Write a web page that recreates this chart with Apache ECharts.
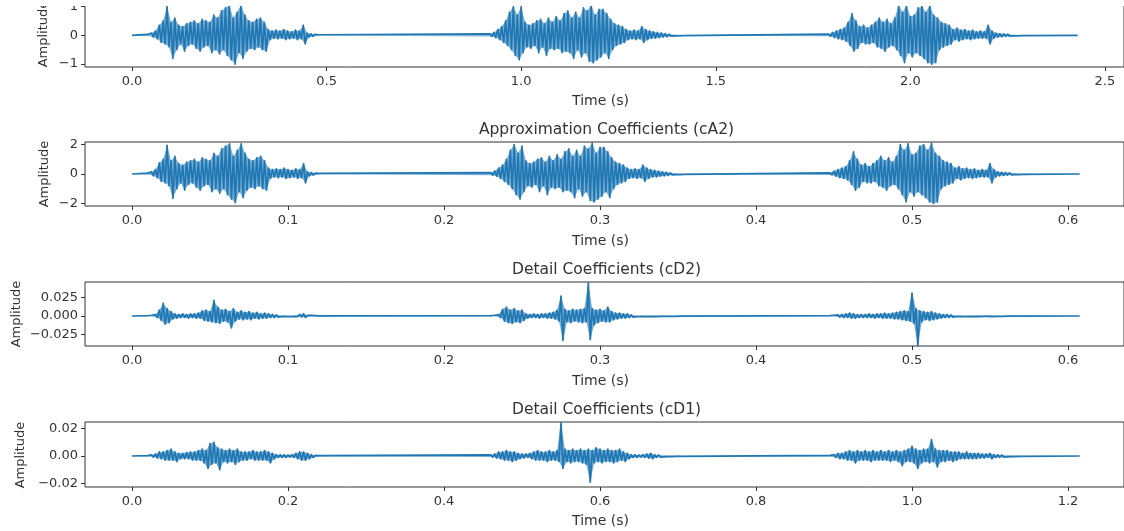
<!DOCTYPE html>
<html>
<head>
<meta charset="utf-8">
<script src="https://cdn.jsdelivr.net/npm/echarts@6/dist/echarts.min.js"></script>
<style>
  html, body { margin: 0; padding: 0; background: #ffffff; }
  #chart { width: 1124px; height: 531px; }
</style>
</head>
<body>
<div id="chart"></div>
<script>
// ---- Original signal: three spoken bursts, peak envelope per 10 ms window ----
const sigStart = [0.04, 0.92, 1.79];
const sigStep = 0.01;
const sigEnd = 2.43;
const sigUp1 = [0.03,0.08,0.15,0.35,0.5,1.0,0.45,0.6,0.35,0.3,0.4,0.45,0.5,0.4,0.55,0.5,0.45,0.7,0.6,0.85,0.95,1.05,0.6,0.8,1.05,0.7,0.5,0.45,0.55,0.6,0.45,0.2,0.15,0.18,0.15,0.2,0.15,0.12,0.18,0.15,0.35,0.08,0.05,0.03,0.02];
const sigDn1 = [-0.03,-0.06,-0.12,-0.25,-0.3,-0.4,-0.8,-0.5,-0.3,-0.55,-0.35,-0.3,-0.45,-0.55,-0.4,-0.35,-0.6,-0.5,-0.65,-0.5,-0.7,-0.85,-1.0,-0.6,-0.8,-0.55,-0.45,-0.5,-0.4,-0.5,-0.55,-0.15,-0.1,-0.12,-0.1,-0.15,-0.12,-0.1,-0.15,-0.12,-0.3,-0.06,-0.04,-0.02,-0.01];
const sigUp2 = [0.05,0.1,0.2,0.3,0.5,0.8,1.0,0.7,1.0,0.45,0.35,0.4,0.5,0.55,0.4,0.6,0.45,0.65,0.5,0.75,0.85,0.6,0.8,0.6,0.95,0.85,1.05,0.7,0.9,0.9,0.75,0.55,0.4,0.35,0.3,0.2,0.15,0.18,0.15,0.3,0.2,0.15,0.12,0.1,0.08,0.06,0.04,0.03,0.02,0.01];
const sigDn2 = [-0.04,-0.08,-0.15,-0.25,-0.35,-0.5,-0.7,-0.85,-0.6,-0.4,-0.45,-0.35,-0.6,-0.4,-0.7,-0.45,-0.5,-0.45,-0.6,-0.55,-0.6,-0.8,-0.5,-0.75,-0.6,-0.9,-0.95,-0.85,-0.75,-0.6,-0.8,-0.5,-0.35,-0.3,-0.25,-0.15,-0.12,-0.15,-0.12,-0.25,-0.15,-0.1,-0.1,-0.08,-0.06,-0.05,-0.03,-0.02,-0.02,-0.01];
const sigUp3 = [0.04,0.1,0.15,0.2,0.25,0.45,0.75,0.5,0.3,0.35,0.25,0.35,0.45,0.6,0.45,0.55,0.4,0.6,1.05,0.8,1.05,0.65,0.7,0.95,1.0,0.8,1.05,0.7,0.6,0.45,0.4,0.35,0.2,0.25,0.18,0.2,0.15,0.18,0.12,0.15,0.12,0.35,0.15,0.08,0.06,0.05,0.04,0.03,0.02,0.01];
const sigDn3 = [-0.03,-0.08,-0.12,-0.15,-0.2,-0.35,-0.55,-0.45,-0.25,-0.3,-0.3,-0.25,-0.4,-0.45,-0.55,-0.4,-0.35,-0.5,-0.7,-0.95,-0.6,-0.75,-0.6,-0.7,-0.8,-0.95,-1.0,-0.95,-0.5,-0.4,-0.35,-0.3,-0.15,-0.2,-0.15,-0.12,-0.15,-0.12,-0.1,-0.1,-0.1,-0.3,-0.1,-0.06,-0.05,-0.04,-0.03,-0.02,-0.02,-0.01];

// ---- Level-2 approximation coefficients (cA2) ----
const caStart = [0.01, 0.23, 0.4475];
const caStep = 0.0025;
const caEnd = 0.6075;
const caUp1 = [0.06,0.15,0.3,0.75,1.0,1.95,0.9,1.2,0.7,0.6,0.8,0.9,1.0,0.8,1.1,1.0,0.9,1.4,1.2,1.7,1.9,2.05,1.2,1.6,2.05,1.4,1.0,0.9,1.1,1.2,0.9,0.4,0.3,0.35,0.3,0.4,0.3,0.25,0.35,0.3,0.7,0.15,0.1,0.06,0.04];
const caDn1 = [-0.05,-0.12,-0.25,-0.5,-0.6,-0.8,-1.65,-1.0,-0.6,-1.1,-0.7,-0.6,-0.9,-1.1,-0.8,-0.7,-1.2,-1.0,-1.3,-1.0,-1.4,-1.7,-1.95,-1.2,-1.6,-1.1,-0.9,-1.0,-0.8,-1.0,-1.1,-0.3,-0.2,-0.25,-0.2,-0.3,-0.25,-0.2,-0.3,-0.25,-0.6,-0.12,-0.08,-0.05,-0.02];
const caUp2 = [0.1,0.2,0.4,0.6,1.0,1.6,2.0,1.4,1.9,0.9,0.7,0.8,1.0,1.1,0.8,1.2,0.9,1.3,1.0,1.5,1.7,1.2,1.6,1.2,1.9,1.7,2.1,1.4,1.8,1.8,1.5,1.1,0.8,0.7,0.6,0.4,0.3,0.35,0.3,0.6,0.4,0.3,0.25,0.2,0.15,0.12,0.08,0.06,0.04,0.02];
const caDn2 = [-0.08,-0.15,-0.3,-0.5,-0.7,-1.0,-1.4,-1.7,-1.2,-0.8,-0.9,-0.7,-1.2,-0.8,-1.4,-0.9,-1.0,-0.9,-1.2,-1.1,-1.2,-1.6,-1.0,-1.5,-1.2,-1.8,-1.9,-1.7,-1.5,-1.2,-1.6,-1.0,-0.7,-0.6,-0.5,-0.3,-0.25,-0.3,-0.25,-0.5,-0.3,-0.2,-0.2,-0.15,-0.12,-0.1,-0.06,-0.04,-0.04,-0.02];
const caUp3 = [0.08,0.2,0.3,0.4,0.5,0.9,1.5,1.0,0.6,0.7,0.5,0.7,0.9,1.2,0.9,1.1,0.8,1.2,2.0,1.6,2.05,1.3,1.4,1.9,2.0,1.6,2.1,1.4,1.2,0.9,0.8,0.7,0.4,0.5,0.35,0.4,0.3,0.35,0.25,0.3,0.25,0.7,0.3,0.15,0.12,0.1,0.08,0.06,0.04,0.02];
const caDn3 = [-0.06,-0.15,-0.25,-0.3,-0.4,-0.7,-1.1,-0.9,-0.5,-0.6,-0.6,-0.5,-0.8,-0.9,-1.1,-0.8,-0.7,-1.0,-1.4,-1.9,-1.2,-1.5,-1.2,-1.4,-1.6,-1.9,-2.0,-1.9,-1.0,-0.8,-0.7,-0.6,-0.3,-0.4,-0.3,-0.25,-0.3,-0.25,-0.2,-0.2,-0.2,-0.6,-0.2,-0.12,-0.1,-0.08,-0.06,-0.04,-0.04,-0.02];

// ---- Level-2 detail coefficients (cD2) ----
const cd2Start = [0.01, 0.23, 0.4475];
const cd2Step = 0.0025;
const cd2End = 0.6075;
const cd2Up1 = [0.0005,0.001,0.002,0.008,0.017,0.01,0.006,0.003,0.002,0.003,0.002,0.003,0.003,0.004,0.007,0.008,0.006,0.021,0.012,0.008,0.009,0.006,0.01,0.005,0.007,0.005,0.006,0.004,0.005,0.003,0.004,0.003,0.002,0.0015,0.001,0.0015,0.001,0.001,0.0015,0.002,0.003,0.001,0.0008,0.0005,0.0003];
const cd2Dn1 = [-0.0005,-0.001,-0.002,-0.006,-0.011,-0.009,-0.004,-0.003,-0.002,-0.002,-0.003,-0.002,-0.003,-0.003,-0.006,-0.007,-0.008,-0.009,-0.01,-0.007,-0.008,-0.016,-0.007,-0.004,-0.005,-0.004,-0.005,-0.003,-0.004,-0.003,-0.003,-0.002,-0.002,-0.0015,-0.001,-0.001,-0.001,-0.001,-0.001,-0.0015,-0.002,-0.001,-0.0008,-0.0005,-0.0003];
const cd2Up2 = [0.0005,0.001,0.002,0.009,0.012,0.008,0.01,0.007,0.008,0.003,0.002,0.003,0.002,0.003,0.003,0.004,0.005,0.008,0.027,0.009,0.007,0.009,0.008,0.009,0.01,0.045,0.01,0.008,0.009,0.007,0.012,0.006,0.004,0.004,0.003,0.003,0.0015,0.001,0.001,0.0015,0.001,0.001,0.0008,0.0008,0.0006,0.0005,0.0005,0.0004,0.0003,0.0002];
const cd2Dn2 = [-0.0005,-0.001,-0.002,-0.007,-0.009,-0.01,-0.008,-0.009,-0.006,-0.003,-0.002,-0.002,-0.003,-0.002,-0.003,-0.003,-0.004,-0.007,-0.033,-0.008,-0.009,-0.007,-0.008,-0.009,-0.008,-0.032,-0.012,-0.009,-0.007,-0.008,-0.008,-0.005,-0.004,-0.003,-0.003,-0.002,-0.0015,-0.001,-0.001,-0.001,-0.001,-0.0008,-0.0008,-0.0006,-0.0006,-0.0005,-0.0004,-0.0004,-0.0003,-0.0002];
const cd2Up3 = [0.0005,0.001,0.0015,0.002,0.003,0.004,0.003,0.002,0.002,0.002,0.003,0.002,0.003,0.003,0.004,0.003,0.004,0.005,0.006,0.007,0.006,0.031,0.01,0.007,0.006,0.005,0.006,0.004,0.003,0.002,0.002,0.0015,0.001,0.0015,0.001,0.001,0.001,0.0008,0.001,0.0008,0.0006,0.001,0.0006,0.0005,0.0004,0.0004,0.0003,0.0003,0.0002,0.0002];
const cd2Dn3 = [-0.0005,-0.001,-0.0015,-0.002,-0.002,-0.003,-0.003,-0.002,-0.002,-0.002,-0.002,-0.003,-0.002,-0.003,-0.003,-0.003,-0.004,-0.004,-0.005,-0.006,-0.007,-0.01,-0.04,-0.008,-0.005,-0.006,-0.005,-0.004,-0.003,-0.002,-0.002,-0.0015,-0.001,-0.001,-0.001,-0.001,-0.0008,-0.0008,-0.0008,-0.0006,-0.0006,-0.0008,-0.0005,-0.0004,-0.0004,-0.0003,-0.0003,-0.0002,-0.0002,-0.0002];

// ---- Level-1 detail coefficients (cD1) ----
const cd1Start = [0.02, 0.46, 0.895];
const cd1Step = 0.005;
const cd1End = 1.215;
const cd1Up1 = [0.0003,0.0008,0.0015,0.003,0.003,0.004,0.005,0.003,0.002,0.002,0.0025,0.003,0.003,0.004,0.005,0.004,0.009,0.01,0.006,0.005,0.004,0.005,0.004,0.005,0.003,0.003,0.003,0.004,0.003,0.003,0.004,0.003,0.002,0.001,0.001,0.001,0.0008,0.001,0.002,0.003,0.003,0.002,0.001,0.0005,0.0003];
const cd1Dn1 = [-0.0003,-0.0008,-0.0015,-0.002,-0.003,-0.003,-0.003,-0.004,-0.002,-0.002,-0.002,-0.003,-0.003,-0.003,-0.005,-0.009,-0.006,-0.005,-0.01,-0.004,-0.005,-0.004,-0.006,-0.004,-0.003,-0.003,-0.002,-0.003,-0.003,-0.003,-0.003,-0.005,-0.002,-0.001,-0.001,-0.001,-0.0008,-0.001,-0.002,-0.003,-0.003,-0.002,-0.001,-0.0005,-0.0003];
const cd1Up2 = [0.0008,0.0015,0.003,0.003,0.004,0.003,0.003,0.002,0.0015,0.0015,0.002,0.003,0.004,0.003,0.003,0.004,0.003,0.004,0.024,0.005,0.004,0.005,0.004,0.005,0.004,0.005,0.004,0.006,0.005,0.004,0.005,0.004,0.004,0.005,0.003,0.002,0.001,0.001,0.0008,0.001,0.0015,0.002,0.001,0.0008,0.0006,0.0005,0.0004,0.0003,0.0003,0.0002];
const cd1Dn2 = [-0.0008,-0.0015,-0.002,-0.003,-0.003,-0.004,-0.003,-0.002,-0.0015,-0.001,-0.002,-0.003,-0.003,-0.003,-0.004,-0.003,-0.003,-0.004,-0.009,-0.004,-0.005,-0.004,-0.004,-0.005,-0.006,-0.019,-0.005,-0.004,-0.005,-0.004,-0.004,-0.005,-0.004,-0.003,-0.004,-0.002,-0.001,-0.001,-0.0008,-0.001,-0.0015,-0.002,-0.001,-0.0008,-0.0006,-0.0005,-0.0004,-0.0003,-0.0003,-0.0002];
const cd1Up3 = [0.0005,0.001,0.002,0.002,0.003,0.004,0.003,0.004,0.003,0.004,0.003,0.004,0.003,0.004,0.003,0.004,0.003,0.004,0.003,0.004,0.005,0.007,0.005,0.004,0.005,0.005,0.012,0.005,0.004,0.004,0.004,0.003,0.003,0.003,0.002,0.003,0.002,0.002,0.002,0.0015,0.0015,0.002,0.001,0.001,0.0008,0.0006,0.0005,0.0004,0.0003,0.0002];
const cd1Dn3 = [-0.0005,-0.001,-0.002,-0.002,-0.003,-0.003,-0.005,-0.003,-0.003,-0.003,-0.004,-0.003,-0.003,-0.003,-0.003,-0.004,-0.003,-0.004,-0.007,-0.004,-0.004,-0.005,-0.009,-0.005,-0.004,-0.005,-0.004,-0.008,-0.004,-0.004,-0.003,-0.004,-0.003,-0.002,-0.002,-0.002,-0.002,-0.002,-0.0015,-0.0015,-0.001,-0.002,-0.001,-0.001,-0.0008,-0.0006,-0.0005,-0.0004,-0.0003,-0.0002];

// ---- Tick values ----
const sigXTicks = [0, 0.5, 1.0, 1.5, 2.0, 2.5];
const sigYTicks = [-1, 0, 1];
const caXTicks = [0, 0.1, 0.2, 0.3, 0.4, 0.5, 0.6];
const caYTicks = [-2, 0, 2];
const cd2XTicks = [0, 0.1, 0.2, 0.3, 0.4, 0.5, 0.6];
const cd2YTicks = [-0.025, 0, 0.025];
const cd1XTicks = [0, 0.2, 0.4, 0.6, 0.8, 1.0, 1.2];
const cd1YTicks = [-0.02, 0, 0.02];

// ---- Text ----
const panelTitles = ['Approximation Coefficients (cA2)', 'Detail Coefficients (cD2)', 'Detail Coefficients (cD1)'];
const xName = 'Time (s)';
const yName = 'Amplitude';

// One edge of the waveform envelope: positive peaks at the window start,
// negative peaks half a window later.
function edge(starts, step, peaks, shift, end) {
  const pts = [[0, 0]];
  starts.forEach(function (s, b) {
    peaks[b].forEach(function (v, i) { pts.push([s + (i + shift) * step, v]); });
  });
  pts.push([end, 0]);
  return pts;
}

// The oscillating trace itself: alternate positive and negative peaks.
function trace(starts, step, ups, dns, end) {
  const pts = [[0, 0]];
  starts.forEach(function (s, b) {
    const up = ups[b], dn = dns[b];
    const n = Math.min(up.length, dn.length);
    for (let i = 0; i < n; i++) {
      pts.push([s + i * step, up[i]]);
      pts.push([s + (i + 0.5) * step, dn[i]]);
    }
  });
  pts.push([end, 0]);
  return pts;
}

function num(v, d) {
  const s = Math.abs(v).toFixed(d);
  return (v < 0 ? '\u2212' : '') + s;
}

const FONT = '"DejaVu Sans", "Liberation Sans", sans-serif';
const INK = '#333333';
const BLUE = '#1f77b4';
const LEFT = 85;
const WIDTH = 1039;

function panel(cfg, starts, step, ups, dns, end) {
  cfg.upper = edge(starts, step, ups, 0, end);
  cfg.lower = edge(starts, step, dns, 0.5, end);
  cfg.wave = trace(starts, step, ups, dns, end);
  return cfg;
}

const panels = [
  panel({ top: 1,   height: 66, xMin: -0.1208, xMax: 2.549,  yMin: -1.1,    yMax: 1.1,
          xTicks: sigXTicks, yTicks: sigYTicks, yDec: 0 },
        sigStart, sigStep, [sigUp1, sigUp2, sigUp3], [sigDn1, sigDn2, sigDn3], sigEnd),
  panel({ top: 142, height: 64, xMin: -0.03013, xMax: 0.6359, yMin: -2.17,   yMax: 2.17,
          xTicks: caXTicks, yTicks: caYTicks, yDec: 0 },
        caStart, caStep, [caUp1, caUp2, caUp3], [caDn1, caDn2, caDn3], caEnd),
  panel({ top: 282, height: 64, xMin: -0.03013, xMax: 0.6359, yMin: -0.0405, yMax: 0.0459,
          xTicks: cd2XTicks, yTicks: cd2YTicks, yDec: 3 },
        cd2Start, cd2Step, [cd2Up1, cd2Up2, cd2Up3], [cd2Dn1, cd2Dn2, cd2Dn3], cd2End),
  panel({ top: 422, height: 65, xMin: -0.06026, xMax: 1.2718, yMin: -0.0225, yMax: 0.0247,
          xTicks: cd1XTicks, yTicks: cd1YTicks, yDec: 2 },
        cd1Start, cd1Step, [cd1Up1, cd1Up2, cd1Up3], [cd1Dn1, cd1Dn2, cd1Dn3], cd1End)
];

const labelStyle = { color: INK, fontFamily: FONT, fontSize: 13 };
const tickStyle = { show: true, inside: false, length: 4, lineStyle: { color: INK, width: 1 } };

const grid = [], xAxis = [], yAxis = [], series = [];
panels.forEach(function (p, i) {
  grid.push({ left: LEFT, width: WIDTH, top: p.top, height: p.height,
              show: true, borderColor: INK, borderWidth: 1, backgroundColor: 'transparent' });
  xAxis.push({
    type: 'value', gridIndex: i, min: p.xMin, max: p.xMax, position: 'bottom',
    axisLine: { show: false, onZero: false },
    axisTick: Object.assign({ customValues: p.xTicks }, tickStyle),
    axisLabel: Object.assign({ customValues: p.xTicks, margin: 8,
      formatter: function (v) { return num(v, 1); } }, labelStyle),
    splitLine: { show: false }
  });
  yAxis.push({
    type: 'value', gridIndex: i, min: p.yMin, max: p.yMax, position: 'left',
    axisLine: { show: false, onZero: false },
    axisTick: Object.assign({ customValues: p.yTicks }, tickStyle),
    axisLabel: Object.assign({ customValues: p.yTicks, margin: 7,
      formatter: function (v) { return num(v, p.yDec); } }, labelStyle),
    splitLine: { show: false }
  });
  // soft body of the envelope
  [p.upper, p.lower].forEach(function (d) {
    series.push({
      type: 'line', xAxisIndex: i, yAxisIndex: i, data: d, z: 2,
      showSymbol: false, symbol: 'none', sampling: false, clip: true,
      lineStyle: { width: 0, opacity: 0 },
      areaStyle: { color: BLUE, opacity: 0.6, origin: 0 },
      emphasis: { disabled: true }, animation: false, silent: true
    });
  });
  // oscillating trace on top
  series.push({
    type: 'line', xAxisIndex: i, yAxisIndex: i, data: p.wave, z: 3,
    showSymbol: false, symbol: 'none', sampling: false, clip: true,
    lineStyle: { color: BLUE, width: 1.7, join: 'round' },
    emphasis: { disabled: true }, animation: false
  });
});

const textStyle = function (size) { return { font: size + 'px ' + FONT, fill: INK, align: 'center', verticalAlign: 'middle' }; };
const graphic = [];
const plotMid = LEFT + WIDTH / 2 - 4;
// panel titles (the first panel's title lies above the visible area)
[130, 270, 409.5].forEach(function (y, k) {
  graphic.push({ type: 'text', x: plotMid + 6, y: y, z: 50, style: Object.assign({ text: panelTitles[k] }, textStyle(15.5)) });
});
// x-axis names
[101, 241, 381, 521].forEach(function (y) {
  graphic.push({ type: 'text', x: plotMid, y: y, z: 50, style: Object.assign({ text: xName }, textStyle(14)) });
});
// y-axis names
[[44, 34], [45, 174], [16.5, 314], [21, 455]].forEach(function (c) {
  graphic.push({ type: 'text', x: c[0], y: c[1], rotation: Math.PI / 2, z: 50,
                 style: Object.assign({ text: yName }, textStyle(13)) });
});
// the figure is cut off along its top edge
graphic.push({ type: 'rect', shape: { x: 0, y: 0, width: 1124, height: 6 }, style: { fill: '#ffffff' }, z: 100 });

const chart = echarts.init(document.getElementById('chart'), null, { renderer: 'canvas' });
chart.setOption({
  backgroundColor: '#ffffff',
  animation: false,
  grid: grid, xAxis: xAxis, yAxis: yAxis, series: series,
  graphic: graphic
});
</script>
</body>
</html>
